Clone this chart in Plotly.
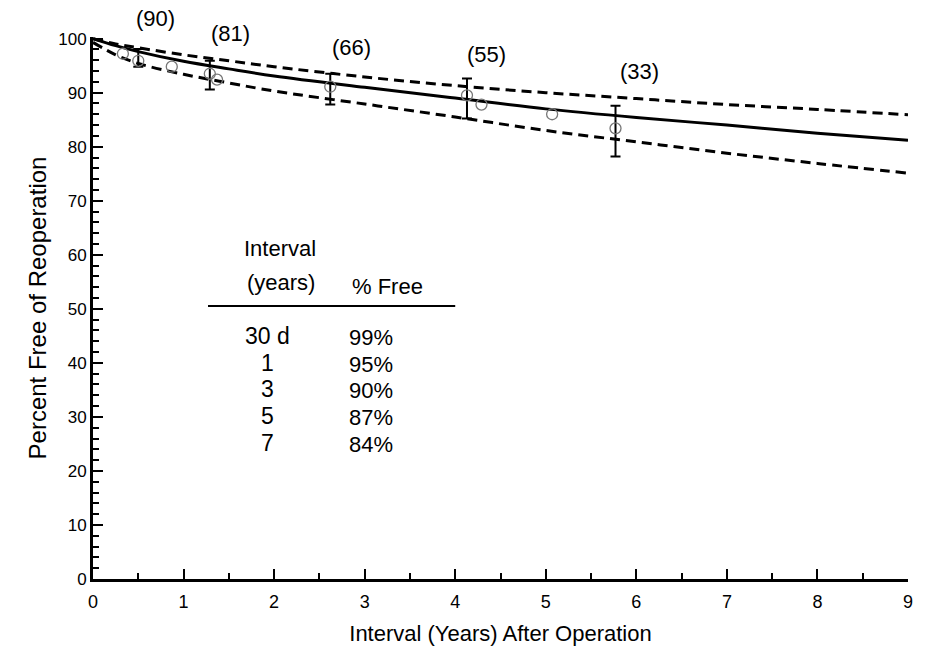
import plotly.graph_objects as go

# Fitted survival curve (solid) and confidence limits (dashed)
curve_x = [0, 0.25, 0.5, 1, 1.5, 2, 3, 4, 5, 6, 7, 8, 9]
curve_mid = [100, 98.7, 97.6, 95.8, 94.4, 93.1, 91.0, 89.0, 87.0, 85.4, 84.0, 82.5, 81.2]
curve_upper = [100, 99.0, 98.3, 97.0, 95.9, 94.8, 92.9, 91.3, 90.0, 88.9, 87.8, 86.9, 85.9]
curve_lower = [99.3, 97.0, 95.4, 93.4, 91.8, 90.3, 87.9, 85.5, 83.0, 80.9, 78.8, 76.9, 75.1]

# Kaplan-Meier points with error bars
bar_x = [0.50, 1.29, 2.62, 4.13, 5.77]
bar_y = [95.9, 93.5, 91.1, 89.5, 83.4]
bar_hi = [98.1, 95.9, 93.5, 92.6, 87.6]
bar_lo = [94.8, 90.6, 87.8, 85.2, 78.2]
bar_n = ["(90)", "(81)", "(66)", "(55)", "(33)"]

# Extra open circles (no bars)
pt_x = [0.33, 0.87, 1.37, 4.29, 5.07]
pt_y = [97.2, 94.8, 92.4, 87.8, 86.0]

# Inset table
tbl_interval = ["30 d", "1", "3", "5", "7"]
tbl_free = ["99%", "95%", "90%", "87%", "84%"]

FONT = "Liberation Sans, Arial, Helvetica, sans-serif"

# layout positions for count labels (x in data units, y in paper fraction)
label_pos = [(0.685, 1.035), (1.513, 1.007), (2.86, 0.9815), (4.35, 0.967), (6.04, 0.937)]
row_y = [45.0, 40.0, 35.1, 30.1, 25.1]

fig = go.Figure()
fig.add_trace(go.Scatter(x=curve_x, y=curve_upper, mode="lines", line_shape="spline",
                         line=dict(color="black", width=3, dash="10px,6px")))
fig.add_trace(go.Scatter(x=curve_x, y=curve_lower, mode="lines", line_shape="spline",
                         line=dict(color="black", width=3, dash="10px,6px")))
fig.add_trace(go.Scatter(x=curve_x, y=curve_mid, mode="lines", line_shape="spline",
                         line=dict(color="black", width=3)))
fig.add_trace(go.Scatter(
    x=bar_x, y=bar_y, mode="markers",
    marker=dict(symbol="circle-open", size=11, color="#777777", line=dict(width=1.3)),
    error_y=dict(type="data", symmetric=False,
                 array=[h - y for h, y in zip(bar_hi, bar_y)],
                 arrayminus=[y - l for y, l in zip(bar_y, bar_lo)],
                 color="black", thickness=2, width=5),
))
fig.add_trace(go.Scatter(
    x=pt_x, y=pt_y, mode="markers",
    marker=dict(symbol="circle-open", size=11, color="#777777", line=dict(width=1.3)),
))

for t, (x, y) in zip(bar_n, label_pos):
    fig.add_annotation(x=x, y=y, xref="x", yref="paper", text=t, showarrow=False,
                       xanchor="center", yanchor="middle",
                       font=dict(size=22, color="black", family=FONT))

# Table
fig.add_annotation(x=2.065, y=61.1, text="Interval", showarrow=False,
                   font=dict(size=22, color="black", family=FONT))
fig.add_annotation(x=2.076, y=54.8, text="(years)", showarrow=False,
                   font=dict(size=22, color="black", family=FONT))
fig.add_annotation(x=3.257, y=54.2, text="% Free", showarrow=False,
                   font=dict(size=22, color="black", family=FONT))
fig.add_shape(type="line", x0=1.27, x1=4.0, y0=50.5, y1=50.5,
              line=dict(color="black", width=2))
for i, (a, b) in enumerate(zip(tbl_interval, tbl_free)):
    fig.add_annotation(x=1.93, y=row_y[i], text=a, showarrow=False,
                       font=dict(size=23, color="black", family=FONT))
    fig.add_annotation(x=2.80, y=row_y[i] - 0.3, text=b, showarrow=False, xanchor="left",
                       font=dict(size=22, color="black", family=FONT))

fig.update_layout(
    width=930, height=661,
    margin=dict(l=93, r=22, t=37, b=82),
    paper_bgcolor="white", plot_bgcolor="white",
    showlegend=False,
    font=dict(family=FONT, color="black"),
    xaxis=dict(range=[0, 9], tickvals=list(range(10)), ticks="inside", ticklen=10, tickwidth=2,
               tickcolor="black", showline=True, linecolor="black", linewidth=3,
               showgrid=False, zeroline=False, tickfont=dict(size=18), ticklabelstandoff=4,
               minor=dict(dtick=0.5, ticks="inside", ticklen=6, tickwidth=2, tickcolor="black", showgrid=False),
               title=dict(text="Interval (Years) After Operation", font=dict(size=22), standoff=16)),
    yaxis=dict(range=[0, 100.3], tickvals=list(range(0, 101, 10)), ticks="inside", ticklen=10, tickwidth=2,
               tickcolor="black", showline=True, linecolor="black", linewidth=3,
               showgrid=False, zeroline=False, tickfont=dict(size=17),
               minor=dict(dtick=2, ticks="inside", ticklen=6, tickwidth=2, tickcolor="black", showgrid=False),
               title=dict(text="Percent Free of Reoperation", font=dict(size=24), standoff=5)),
)

fig.write_html("out.html")
